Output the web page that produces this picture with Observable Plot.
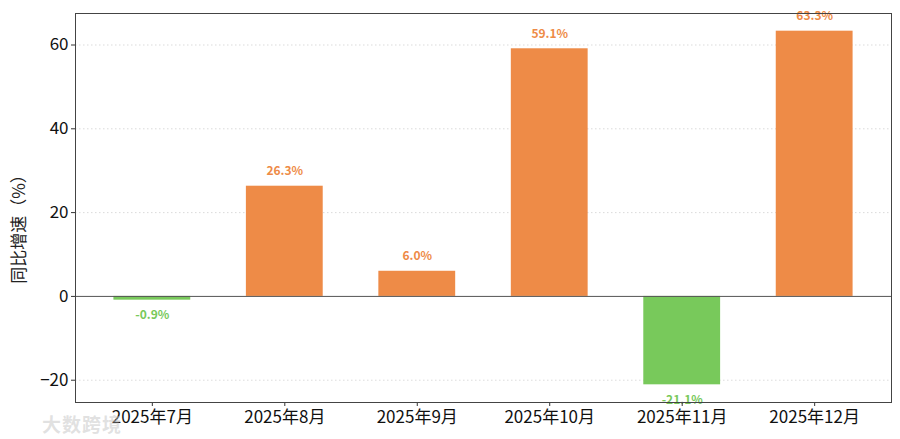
<!DOCTYPE html>
<html>
<head>
<meta charset="utf-8">
<script src="https://cdn.jsdelivr.net/npm/d3@7"></script>
<script src="https://cdn.jsdelivr.net/npm/@observablehq/plot@0.6"></script>
<style>
  html, body { margin: 0; padding: 0; background: #fff; }
  #wrap { position: relative; width: 900px; height: 439px; }
  #wm { position: absolute; left: 42px; top: 410px; font: bold 19px "Noto Sans CJK SC"; color: rgba(200,200,200,0.55); letter-spacing: 1px; }
</style>
</head>
<body>
<div id="wrap"><div id="chart"></div><div id="wm">大数跨境</div></div>
<script>
const months = ["2025年7月", "2025年8月", "2025年9月", "2025年10月", "2025年11月", "2025年12月"];
const growth = [-0.9, 26.3, 6.0, 59.1, -21.1, 63.3];
const yTicks = [-20, 0, 20, 40, 60];
const yLabel = "同比增速（%）";

const orange = "#EE8B47";
const green = "#78C95B";
const data = months.map((m, i) => ({month: m, value: growth[i]}));
const font = "Noto Sans CJK SC";

const chart = Plot.plot({
  width: 900,
  height: 439,
  marginLeft: 75,
  marginRight: 9,
  marginTop: 13,
  marginBottom: 37,
  style: {fontFamily: font, background: "#fff"},
  x: {domain: months, paddingInner: 0.42, paddingOuter: 0.29, round: false, label: null},
  y: {domain: [-25.32, 67.52], label: null},
  marks: [
    Plot.gridY(yTicks.filter(d => d !== 0), {stroke: "#cccccc", strokeOpacity: 1, strokeDasharray: "1.5,2.5", strokeWidth: 0.7}),
    Plot.barY(data, {x: "month", y: "value", fill: d => d.value >= 0 ? orange : green}),
    Plot.ruleY([0], {stroke: "#555", strokeWidth: 1}),
    Plot.text(data, {
      x: "month", y: "value",
      text: d => d.value.toFixed(1) + "%",
      fill: orange,
      fontWeight: "bold", fontSize: 12,
      lineAnchor: "middle",
      filter: d => d.value >= 0,
      dy: -15
    }),
    Plot.text(data, {
      x: "month", y: "value",
      text: d => d.value.toFixed(1) + "%",
      fill: green,
      fontWeight: "bold", fontSize: 12,
      lineAnchor: "middle",
      filter: d => d.value < 0,
      dy: 15
    }),
    Plot.axisY(yTicks, {tickSize: 4, fontSize: 17, stroke: "#333", fill: "#111", tickPadding: 3, tickFormat: d => d < 0 ? "\u2212" + Math.abs(d) : String(d), label: null}),
    Plot.axisX({tickSize: 4, fontSize: 17, stroke: "#333", fill: "#111", tickPadding: 4, label: null}),
    Plot.frame({stroke: "#444", strokeWidth: 1})
  ]
});

const svg = chart;
const ns = "http://www.w3.org/2000/svg";
const t = document.createElementNS(ns, "text");
t.setAttribute("transform", `translate(20, 225) rotate(-90)`);
t.setAttribute("text-anchor", "middle");
t.setAttribute("dominant-baseline", "middle");
t.setAttribute("font-size", "17");
t.setAttribute("font-family", font);
t.setAttribute("fill", "#222");
t.textContent = yLabel;
svg.appendChild(t);
document.getElementById("chart").appendChild(svg);
</script>
</body>
</html>
